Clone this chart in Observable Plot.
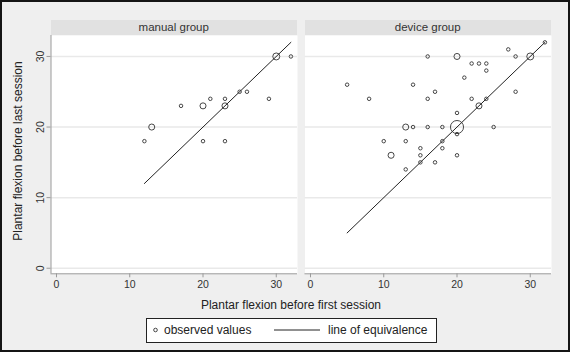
<!DOCTYPE html>
<html>
<head>
<meta charset="utf-8">
<script src="https://cdn.jsdelivr.net/npm/d3@7"></script>
<script src="https://cdn.jsdelivr.net/npm/@observablehq/plot@0.6"></script>
<style>
  html, body { margin: 0; padding: 0; background: #ffffff; }
  body { font-family: "Liberation Sans", Arial, sans-serif; }
  #wrap { position: relative; width: 571px; height: 358px; overflow: hidden; }
  #frame { position: absolute; left: 0; top: 0; width: 570px; height: 352px; box-sizing: border-box;
           border: 2px solid #151515; background: #efefef; }
  .panel { position: absolute; }
  .strip { position: absolute; height: 15px; background: #e1e1e1; color: #333; font-size: 11.5px;
           line-height: 15px; text-align: center; z-index: 2; }
  .ttl { position: absolute; font-size: 12px; color: #222; white-space: nowrap; }
  #legend { position: absolute; left: 146px; top: 318px; width: 291px; height: 25px; box-sizing: border-box;
            border: 1.5px solid #222; background: #fff; font-size: 12px; color: #222; }
  #legend span { position: absolute; top: 4px; white-space: nowrap; }
</style>
</head>
<body>
<div id="wrap">
  <div id="frame"></div>
  <div class="strip" style="left:50.5px; top:20px; width:246.5px;">manual group</div>
  <div class="strip" style="left:304.5px; top:20px; width:246.5px;">device group</div>
  <div id="p1" class="panel" style="left:0; top:20px;"></div>
  <div id="p2" class="panel" style="left:300px; top:20px;"></div>
  <div class="ttl" style="left:291px; top:305px; transform: translate(-50%,-50%);">Plantar flexion before first session</div>
  <div class="ttl" style="left:18px; top:151px; transform: translate(-50%,-50%) rotate(-90deg);">Plantar flexion before last session</div>
  <div id="legend">
    <svg width="291" height="25" style="position:absolute;left:0;top:0;">
      <circle cx="8.5" cy="11" r="1.8" fill="none" stroke="#333" stroke-width="0.9"></circle>
      <line x1="127" x2="173" y1="11" y2="11" stroke="#222" stroke-width="1"></line>
    </svg>
    <span style="left:17px;">observed values</span>
    <span style="left:181px;">line of equivalence</span>
  </div>
</div>
<script>
// ---- data ----
const groups = ["manual group", "device group"];
const manualX = [12, 13, 17, 20, 20, 21, 23, 23, 23, 25, 26, 29, 30, 32];
const manualY = [18, 20, 23, 23, 18, 24, 24, 23, 18, 25, 25, 24, 30, 30];
const manualN = [1, 3, 1, 3, 1, 1, 1, 3, 1, 1, 1, 1, 4, 1];

const deviceX = [5, 8, 10, 11, 13, 13, 13, 14, 14, 15, 15, 15, 16, 16, 16, 17, 17, 18, 18, 18,
                 20, 20, 20, 20, 20, 21, 22, 22, 23, 23, 24, 24, 24, 25, 27, 28, 28, 30, 32];
const deviceY = [26, 24, 18, 16, 20, 18, 14, 20, 26, 17, 16, 15, 30, 24, 20, 25, 15, 20, 18, 17,
                 30, 22, 20, 19, 16, 27, 29, 24, 29, 23, 29, 28, 24, 20, 31, 30, 25, 30, 32];
const deviceN = [1, 1, 1, 3, 3, 1, 1, 1, 1, 1, 1, 1, 1, 1, 1, 1, 1, 1, 1, 1,
                 3, 1, 14, 1, 1, 1, 1, 1, 1, 3, 1, 1, 1, 1, 1, 1, 1, 4, 1];

const xTicks = [0, 10, 20, 30];
const yTicks = [0, 10, 20, 30];
const xDomain = [-0.75, 32.9];
const yDomain = [-0.79, 32.97];

const toRows = (xs, ys, ns) => xs.map((x, i) => ({x, y: ys[i], n: ns[i]}));
const manual = toRows(manualX, manualY, manualN);
const device = toRows(deviceX, deviceY, deviceN);

const font = {fontFamily: "'Liberation Sans', Arial, sans-serif", fontSize: "10.5px", background: "transparent", overflow: "visible", color: "#333"};

function panel(rows, showY, width, ml, mr) {
  const ext = d3.extent(rows, d => d.x);
  const eq = ext.map(v => ({x: v, y: v}));
  const marks = [
    Plot.frame({fill: "white", stroke: null}),
    Plot.gridY(yTicks, {stroke: "#e9e9e9", strokeOpacity: 1, strokeWidth: 1.5}),
    Plot.ruleY([yDomain[0]], {stroke: "#9a9a9a", strokeWidth: 1}),
    Plot.axisX(xTicks, {tickSize: 4, tickPadding: 3, stroke: "#9a9a9a", fill: "#333", label: null}),
    Plot.line(eq, {x: "x", y: "y", stroke: "#222", strokeWidth: 1}),
    Plot.dot(rows, {x: "x", y: "y", r: "n", stroke: "#333", strokeWidth: 0.9, fill: "none"})
  ];
  if (showY) {
    marks.push(Plot.ruleX([xDomain[0]], {stroke: "#9a9a9a", strokeWidth: 1}));
    marks.push(Plot.axisY(yTicks, {tickSize: 4, tickPadding: 3, tickRotate: -90, stroke: "#9a9a9a", fill: "#333", label: null}));
  }
  return Plot.plot({
    width, height: 270,
    marginLeft: ml, marginRight: mr, marginTop: 15, marginBottom: 16.7,
    x: {domain: xDomain, label: null},
    y: showY ? {domain: yDomain, label: null} : {domain: yDomain, label: null, axis: null},
    r: {type: "sqrt", domain: [0, 14], range: [0, 1.75 * Math.sqrt(14)]},
    style: font,
    marks
  });
}

document.getElementById("p1").appendChild(panel(manual, true, 300, 50.5, 3));
document.getElementById("p2").appendChild(panel(device, false, 271, 4.5, 20));
</script>
</body>
</html>
